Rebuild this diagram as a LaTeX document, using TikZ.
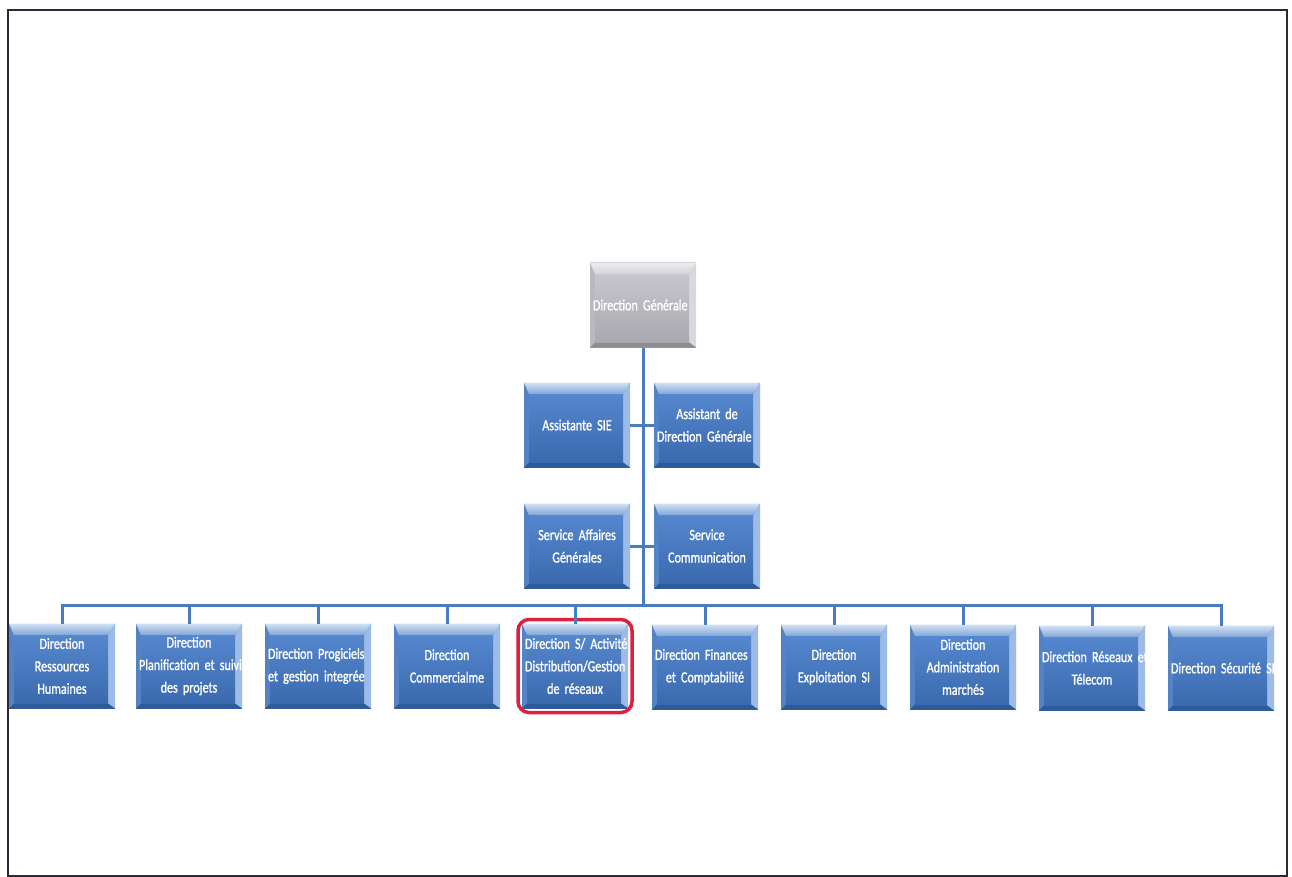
\documentclass[tikz,border=0pt]{standalone}
\usepackage{fontspec}
\newfontfamily\boxfont[FakeStretch=0.78, FakeBold=1.3]{Carlito}
\usetikzlibrary{fit}

% blue bevelled box palette
\definecolor{blueedge}{HTML}{3566AA}
\definecolor{bluetop}{HTML}{D2E0F3}
\definecolor{bluetopin}{HTML}{7EA4D8}
\definecolor{blueleft}{HTML}{5383C4}
\definecolor{blueright}{HTML}{9CBBE6}
\definecolor{bluebottom}{HTML}{2D5A98}
\definecolor{bluefacetop}{HTML}{5587CE}
\definecolor{bluefacebot}{HTML}{3A69AE}
% grey bevelled box palette
\definecolor{greyedge}{HTML}{A0A0A6}
\definecolor{greytop}{HTML}{EEEEF1}
\definecolor{greytopin}{HTML}{D2D2D7}
\definecolor{greyleft}{HTML}{B8B8BE}
\definecolor{greyright}{HTML}{D8D8DD}
\definecolor{greybottom}{HTML}{8C8C92}
\definecolor{greyfacetop}{HTML}{C6C6CC}
\definecolor{greyfacebot}{HTML}{A8A8AF}
% lines
\definecolor{linkblue}{HTML}{4A7CC0}
\definecolor{hlred}{HTML}{E01F3D}
\definecolor{framecol}{HTML}{2B2838}

\tikzset{
  orgbox/.style={rectangle, minimum width=106pt, minimum height=85pt,
    inner sep=0pt, outer sep=0pt},
  boxtext/.style={text=white,
    font={\boxfont\fontsize{15.5}{22.5}\selectfont\spaceskip=2.8pt\relax},
    align=center, text width=100pt, inner sep=0pt},
  link/.style={draw=linkblue, line width=3pt},
  highlight/.style={draw=hlred, line width=3.5pt, rounded corners=11pt, inner sep=4pt},
  frame/.style={draw=framecol, line width=1.6pt},
}

% a line that is wider than its box: starts at the left edge, runs off the right
\newcommand\wideline[1]{\makebox[\linewidth][l]{#1}}

% bevelled box: name, x, y, palette, text
\newcommand\orgnode[5]{%
  \node[orgbox, path picture={
    \coordinate (bnw) at (path picture bounding box.north west);
    \coordinate (bne) at (path picture bounding box.north east);
    \coordinate (bsw) at (path picture bounding box.south west);
    \coordinate (bse) at (path picture bounding box.south east);
    \fill[#4edge] (bnw) rectangle (bse);
    \fill[#4left] (bnw) -- ([shift={(5pt,-12pt)}]bnw) -- ([shift={(5pt,5pt)}]bsw) -- (bsw) -- cycle;
    \fill[#4right] (bne) -- ([shift={(-7pt,-12pt)}]bne) -- ([shift={(-7pt,5pt)}]bse) -- (bse) -- cycle;
    \fill[#4bottom] (bsw) -- ([shift={(5pt,5pt)}]bsw) -- ([shift={(-7pt,5pt)}]bse) -- (bse) -- cycle;
    \shade[top color=#4top, bottom color=#4topin] (bnw) -- (bne)
      -- ([shift={(-7pt,-12pt)}]bne) -- ([shift={(5pt,-12pt)}]bnw) -- cycle;
    \shade[top color=#4facetop, bottom color=#4facebot]
      ([shift={(5pt,-12pt)}]bnw) rectangle ([shift={(-7pt,5pt)}]bse);
    \node[boxtext] at (path picture bounding box.center) {#5};
  }] (#1) at (#2,#3) {};
}

\begin{document}
\begin{tikzpicture}[x=1pt, y=-1pt]
\useasboundingbox (0,0) rectangle (1292,877);
\fill[white] (0,0) rectangle (1292,877);
\draw[frame] (8,10) rectangle (1287,876);

% head and staff
\orgnode{dg}{643}{305}{grey}{\wideline{Direction Générale}}
\orgnode{as}{577}{425}{blue}{Assistante SIE}
\orgnode{ad}{707}{425}{blue}{Assistant de\\\wideline{Direction Générale}}
\orgnode{sa}{577}{546}{blue}{Service Affaires\\Générales}
\orgnode{sc}{707}{546}{blue}{Service\\Communication}

% directions
\orgnode{d1}{62}{666}{blue}{Direction\\Ressources\\Humaines}
\orgnode{d2}{189}{666}{blue}{Direction\\\wideline{Planification et suivi}\\des projets}
\orgnode{d3}{318}{666}{blue}{\wideline{Direction Progiciels}\\\wideline{et gestion integrée}}
\orgnode{d4}{447}{666}{blue}{Direction\\Commercialme}
\orgnode{d5}{575}{666}{blue}{\wideline{Direction S/ Activité}\\\wideline{Distribution/Gestion}\\de réseaux}
\orgnode{d6}{705}{667}{blue}{\wideline{Direction Finances}\\et Comptabilité}
\orgnode{d7}{834}{667}{blue}{Direction\\Exploitation SI}
\orgnode{d8}{963}{667}{blue}{Direction\\Administration\\marchés}
\orgnode{d9}{1092}{668}{blue}{\wideline{Direction Réseaux et}\\Télecom}
\orgnode{d10}{1221}{668}{blue}{\wideline{Direction Sécurité SI}}

\node[highlight, fit=(d5)] (hl) {};

% connectors
\coordinate (hub) at (643,605);
\draw[link] (dg.south) -- (hub);
\draw[link] (as.east) -- (ad.west);
\draw[link] (sa.east) -- (sc.west);
\draw[link] (d1.north) -- (d1.north |- hub) -- (d10.north |- hub) -- (d10.north);
\foreach \d in {d2,d3,d4,d5,d6,d7,d8,d9}
  \draw[link] (\d.north) -- (\d.north |- hub);
\end{tikzpicture}
\end{document}
